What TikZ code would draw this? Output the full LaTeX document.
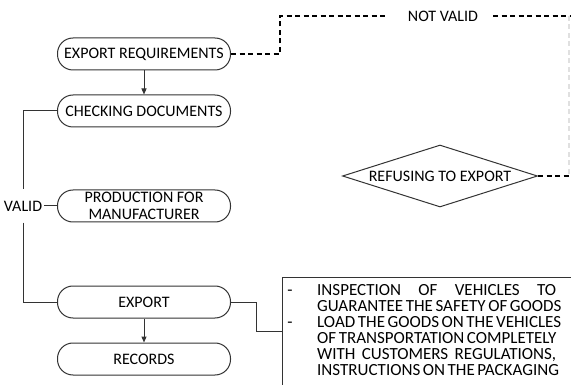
\documentclass[tikz,border=0pt]{standalone}
\usepackage{fontspec}
\setmainfont{Carlito}
\usetikzlibrary{shapes.geometric,arrows.meta}
\begin{document}
\begin{tikzpicture}[x=1pt,y=-1pt,
  stage/.style={draw=black!80, line width=1pt, rounded corners=15.5pt,
    minimum width=173pt, minimum height=32pt, inner sep=0pt, align=center,
    font=\fontsize{16}{17}\selectfont},
  label/.style={inner sep=0pt, font=\fontsize{16}{17}\selectfont},
  noteline/.style={anchor=base west, inner sep=0pt, font=\fontsize{17}{16}\selectfont},
  notedash/.style={anchor=base, inner sep=0pt, font=\fontsize{17}{16}\selectfont},
  link/.style={draw=black!80, line width=1pt},
  arr/.style={link, -{Triangle[length=6pt,width=5pt]}},
  nvline/.style={draw=black, line width=1.5pt, dash pattern=on 5pt off 3.5pt},
]
\useasboundingbox (0,0) rectangle (571,385);
\clip (0,0) rectangle (571,385);

% process stages
\node[stage] (req)  at (144,54)  {EXPORT REQUIREMENTS};
\node[stage] (chk)  at (144,111) {CHECKING DOCUMENTS};
\node[stage] (prod) at (144,206) {PRODUCTION FOR\\MANUFACTURER};
\node[stage] (exp)  at (144,302) {EXPORT};
\node[stage] (rec)  at (144,359) {RECORDS};

% branch labels and decision
\node[label, minimum height=33pt, inner xsep=2pt] (valid) at (23,206) {VALID};
\node[label] (notvalid) at (443,16) {NOT VALID};
\node[diamond, draw=black!80, line width=1pt, aspect=3.15, inner sep=0pt,
      minimum width=195pt, minimum height=62pt,
      font=\fontsize{16}{17}\selectfont] (refuse) at (440,176) {REFUSING TO EXPORT};

% notes box for the export stage
\node[draw=black!80, line width=1pt, anchor=north west,
      minimum width=320pt, minimum height=107pt] (notes) at (281.5,277.5) {};
\node[notedash] (d1) at (290,295) {-};
\node[notedash] (d2) at (290,327) {-};
\node[noteline] (l1) at (317,295) {\hbox to 239pt{INSPECTION\hfill OF\hfill VEHICLES\hfill TO}};
\node[noteline] (l2) at (317,311) {\hbox to 239pt{GUARANTEE THE SAFETY OF GOODS}};
\node[noteline] (l3) at (317,327) {\hbox to 239pt{LOAD THE GOODS ON THE VEHICLES}};
\node[noteline] (l4) at (317,343) {\hbox to 239pt{OF TRANSPORTATION COMPLETELY}};
\node[noteline] (l5) at (317,359) {\hbox to 239pt{WITH\hfill CUSTOMERS\hfill REGULATIONS,}};
\node[noteline] (l6) at (317,375) {\hbox to 239pt{INSTRUCTIONS ON THE PACKAGING}};

% corner points of the dashed return path
\coordinate (k1)  at (280,16);
\coordinate (nvl) at (387,16);
\coordinate (nvr) at (493,16);
\coordinate (ne)  at (573,16);
\coordinate (rt)  at (569,16);
\coordinate (rb)  at (569,176);
\coordinate (re)  at (573,176);

% solid flow
\draw[arr] (req) -- (chk);
\draw[arr] (exp) -- (rec);
\draw[link] (chk.west) -| (valid.north);
\draw[link] (valid.south) |- (exp.west);
\draw[link] (valid.east) -- (prod.west);
\draw[link] (exp.east) -- ++(25,0) |- (notes.west);

% dashed "not valid" path
\draw[nvline] (req.east) -| (k1) -- (nvl);
\draw[nvline] (nvr) -- (ne);
\draw[nvline, draw=black!12] (rt) -- (rb);
\draw[nvline] (refuse.east) -- (re);
\end{tikzpicture}
\end{document}
